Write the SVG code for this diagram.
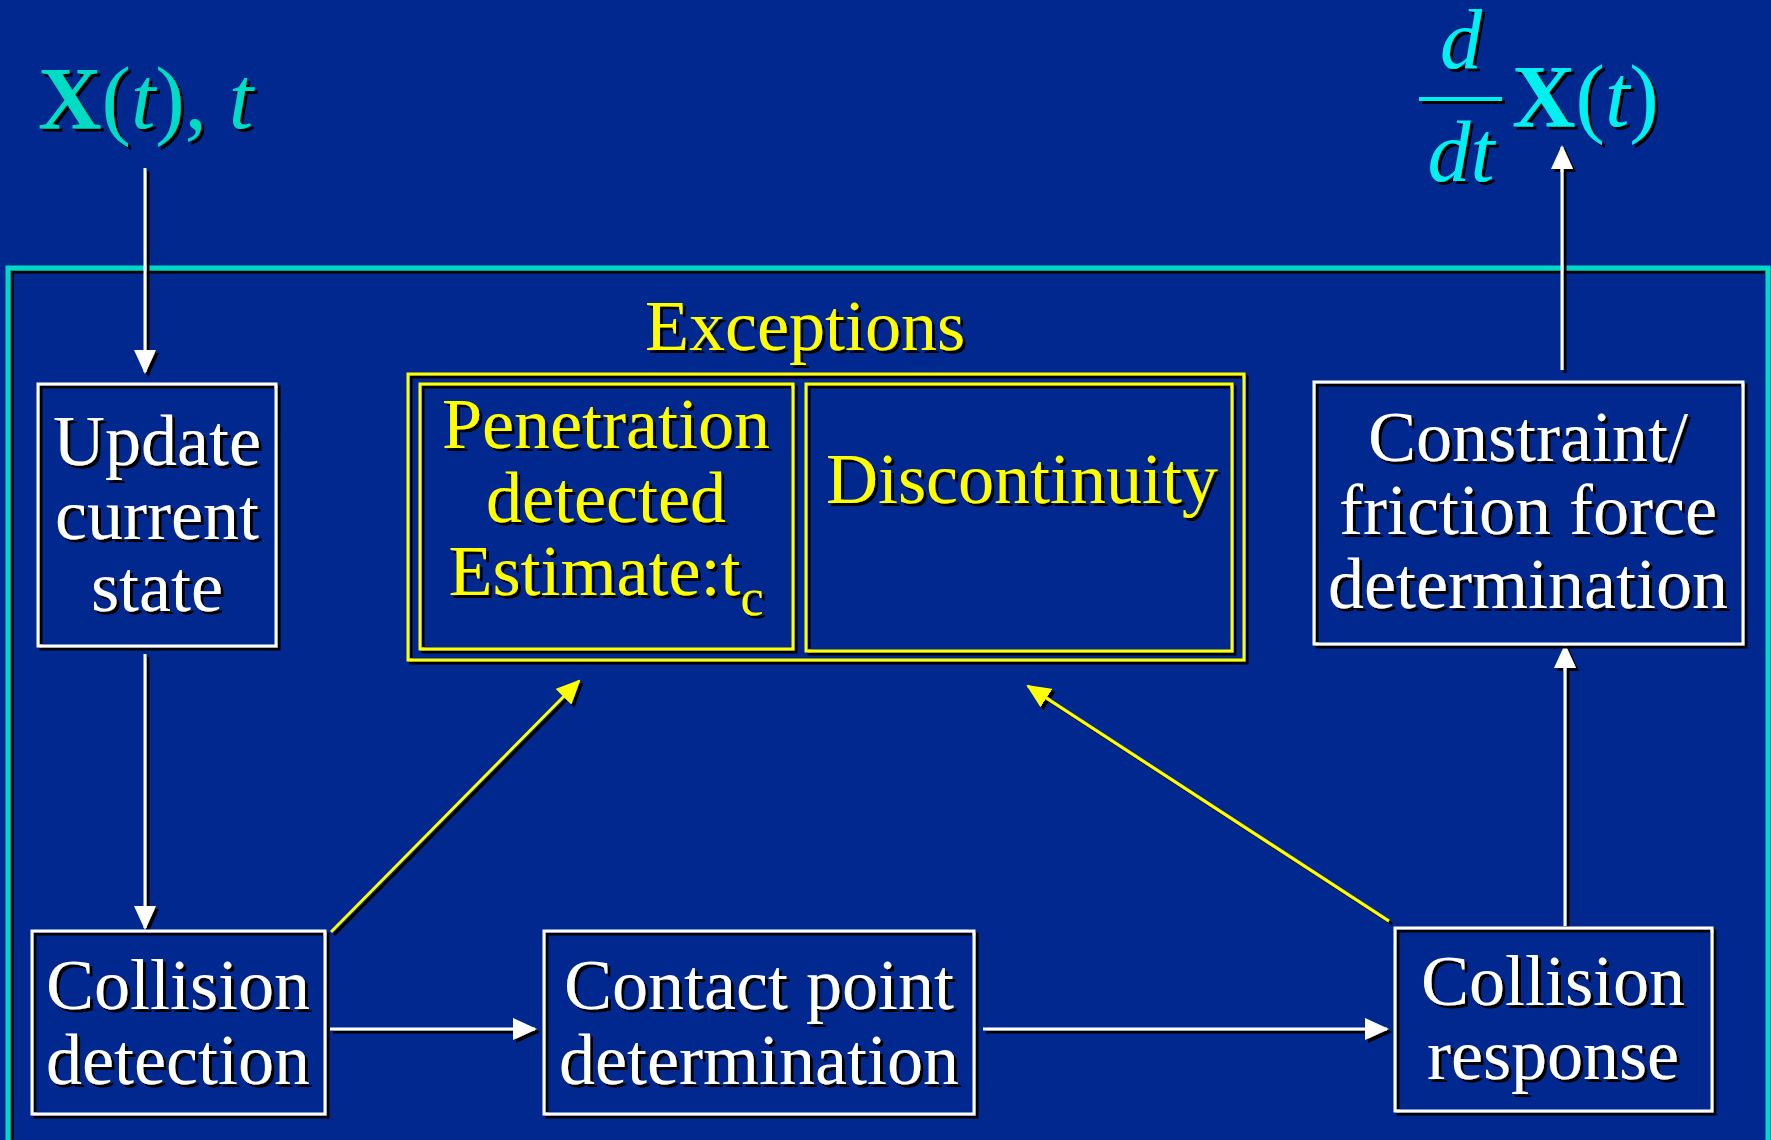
<svg xmlns="http://www.w3.org/2000/svg" width="1771" height="1140" viewBox="0 0 1771 1140">
<style>
.box{fill:none;stroke:#ffffff;stroke-width:3}
.ybox{fill:none;stroke:#ffff00;stroke-width:3}
.wl{stroke:#ffffff;stroke-width:3;fill:none}
.yl{stroke:#ffff00;stroke-width:3;fill:none}
.t{font-family:"Liberation Serif","Times New Roman",serif;font-size:72px;fill:#ffffff;text-anchor:middle}
.y{fill:#ffff00}
.m{font-family:"Liberation Serif","Times New Roman",serif;font-size:88px}
</style>
<defs>
<filter id="sh" filterUnits="userSpaceOnUse" x="0" y="0" width="1771" height="1140">
<feDropShadow dx="3" dy="3" stdDeviation="0.4" flood-color="#000000" flood-opacity="1"/>
</filter>
<marker id="aw" markerUnits="userSpaceOnUse" markerWidth="24" markerHeight="22" refX="22" refY="11" orient="auto">
<path d="M0,0 L24,11 L0,22 Z" fill="#ffffff"/>
</marker>
<marker id="ay" markerUnits="userSpaceOnUse" markerWidth="24" markerHeight="22" refX="22" refY="11" orient="auto">
<path d="M0,0 L24,11 L0,22 Z" fill="#ffff00"/>
</marker>
</defs>
<rect x="0" y="0" width="1771" height="1140" fill="#00288f"/>
<g id="frame" filter="url(#sh)">
<rect x="8" y="268" width="1760" height="900" fill="none" stroke="#00d8c8" stroke-width="5"/>
</g>
<g id="input" filter="url(#sh)" class="m" fill="#00dcc4">
<text x="38" y="128"><tspan font-weight="bold">X</tspan>(<tspan font-style="italic">t</tspan>), <tspan font-style="italic">t</tspan></text>
</g>
<g id="output" filter="url(#sh)" class="m" fill="#00f0f0">
<text x="1461" y="68" font-size="84" font-style="italic" text-anchor="middle">d</text>
<line x1="1419" y1="99" x2="1502" y2="99" stroke="#00f0f0" stroke-width="4"/>
<text x="1461" y="181" font-size="86" font-style="italic" text-anchor="middle">dt</text>
<text x="1512" y="126"><tspan font-weight="bold">X</tspan>(<tspan font-style="italic">t</tspan>)</text>
</g>
<g id="connectors" filter="url(#sh)">
<line class="wl" x1="145" y1="168" x2="145" y2="372" marker-end="url(#aw)"/>
<line class="wl" x1="145" y1="654" x2="145" y2="928" marker-end="url(#aw)"/>
<line class="wl" x1="330" y1="1029" x2="535" y2="1029" marker-end="url(#aw)"/>
<line class="wl" x1="983" y1="1029" x2="1387" y2="1029" marker-end="url(#aw)"/>
<line class="wl" x1="1565" y1="926" x2="1565" y2="646" marker-end="url(#aw)"/>
<line class="wl" x1="1562" y1="370" x2="1562" y2="147" marker-end="url(#aw)"/>
<line class="yl" x1="331" y1="932" x2="579" y2="681" marker-end="url(#ay)"/>
<line class="yl" x1="1389" y1="921" x2="1028" y2="686" marker-end="url(#ay)"/>
</g>
<g id="update" filter="url(#sh)">
<rect class="box" x="38" y="384" width="238" height="262"/>
<text class="t" x="157" y="465">Update</text>
<text class="t" x="157" y="539">current</text>
<text class="t" x="157" y="611">state</text>
</g>
<g id="collision-detection" filter="url(#sh)">
<rect class="box" x="32" y="931" width="293" height="183"/>
<text class="t" x="178" y="1009">Collision</text>
<text class="t" x="178" y="1084">detection</text>
</g>
<g id="contact-point" filter="url(#sh)">
<rect class="box" x="544" y="931" width="430" height="183"/>
<text class="t" x="759" y="1009">Contact point</text>
<text class="t" x="759" y="1084">determination</text>
</g>
<g id="collision-response" filter="url(#sh)">
<rect class="box" x="1395" y="928" width="317" height="183"/>
<text class="t" x="1553" y="1005">Collision</text>
<text class="t" x="1553" y="1079">response</text>
</g>
<g id="constraint" filter="url(#sh)">
<rect class="box" x="1314" y="382" width="429" height="262"/>
<text class="t" x="1528" y="461">Constraint/</text>
<text class="t" x="1528" y="534">friction force</text>
<text class="t" x="1528" y="608">determination</text>
</g>
<g id="exceptions" filter="url(#sh)">
<text class="t y" x="805" y="350">Exceptions</text>
<rect class="ybox" x="408" y="374" width="836" height="286"/>
</g>
<g id="penetration" filter="url(#sh)">
<rect class="ybox" x="420" y="384" width="373" height="265"/>
<text class="t y" x="606" y="448">Penetration</text>
<text class="t y" x="606" y="522">detected</text>
<text class="t y" x="606" y="595">Estimate:t<tspan font-size="52" dy="20">c</tspan></text>
</g>
<g id="discontinuity" filter="url(#sh)">
<rect class="ybox" x="806" y="384" width="426" height="267"/>
<text class="t y" x="1022" y="503">Discontinuity</text>
</g>
</svg>
